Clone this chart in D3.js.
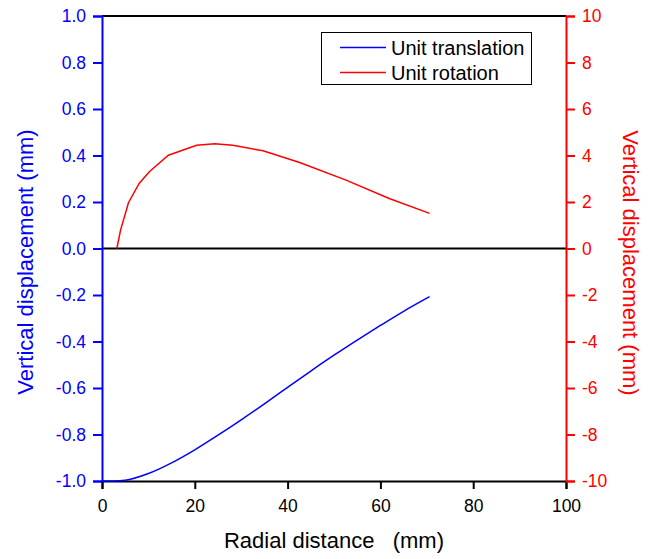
<!DOCTYPE html>
<html>
<head>
<meta charset="utf-8">
<style>
  body { margin: 0; background: #fff; }
  svg text { font-family: Arial, "Liberation Sans", sans-serif; }
</style>
</head>
<body>
<svg id="chart"></svg>
<script src="https://cdnjs.cloudflare.com/ajax/libs/d3/7.8.5/d3.min.js"></script>
<script>
  // radial distance (mm) and vertical displacement
  const transX = [0, 2.5, 5, 10, 15, 20, 25, 30, 35, 40, 45, 50, 55, 60, 65, 70.6];
  const transY = [-1.0, -1.0, -0.997, -0.968, -0.922, -0.866, -0.803, -0.737, -0.668, -0.597, -0.527, -0.459, -0.394, -0.331, -0.270, -0.207];

  const rotX = [3.2, 4, 5.7, 8, 10.2, 14.3, 20.4, 24.3, 28.2, 34.7, 42.6, 52.6, 61.9, 70.6];
  const rotY = [0, 0.79, 1.97, 2.8, 3.3, 4.01, 4.44, 4.51, 4.44, 4.2, 3.7, 2.94, 2.15, 1.51];

  const xTicks = [0, 20, 40, 60, 80, 100];
  const leftTicks = [1.0, 0.8, 0.6, 0.4, 0.2, 0.0, -0.2, -0.4, -0.6, -0.8, -1.0];
  const rightTicks = [10, 8, 6, 4, 2, 0, -2, -4, -6, -8, -10];

  const legendNames = ['Unit translation', 'Unit rotation'];

  const W = 658, H = 559;
  const m = { left: 102, right: 566, top: 16, bottom: 481 };
  const blue = '#0000ff', red = '#ff0000';
  const hyph = f => d => f(d).replace('\u2212', '-');

  const svg = d3.select('#chart').attr('width', W).attr('height', H);

  const x = d3.scaleLinear().domain([0, 100]).range([m.left, m.right]);
  const yL = d3.scaleLinear().domain([-1, 1]).range([m.bottom, m.top]);
  const yR = d3.scaleLinear().domain([-10, 10]).range([m.bottom, m.top]);

  // top frame
  svg.append('line')
      .attr('x1', m.left).attr('x2', m.right)
      .attr('y1', m.top).attr('y2', m.top)
      .attr('stroke', '#000').attr('stroke-width', 2);

  // zero line
  svg.append('line')
      .attr('x1', m.left).attr('x2', m.right)
      .attr('y1', yL(0)).attr('y2', yL(0))
      .attr('stroke', '#000').attr('stroke-width', 2);

  // bottom axis
  const gx = svg.append('g')
      .attr('transform', `translate(0,${m.bottom})`)
      .call(d3.axisBottom(x).tickValues(xTicks).tickSize(8).tickPadding(11).tickFormat(d3.format('d')));
  gx.select('.domain').attr('stroke', '#000').attr('stroke-width', 2);
  gx.selectAll('.tick line').attr('stroke', '#000').attr('stroke-width', 2);
  gx.selectAll('text').attr('font-size', 17.5).attr('fill', '#000');

  // left axis
  const gl = svg.append('g')
      .attr('transform', `translate(${m.left},0)`)
      .call(d3.axisLeft(yL).tickValues(leftTicks).tickSize(9).tickPadding(7).tickFormat(hyph(d3.format('.1f'))));
  gl.select('.domain').attr('stroke', blue).attr('stroke-width', 2);
  gl.selectAll('.tick line').attr('stroke', blue).attr('stroke-width', 2);
  gl.selectAll('text').attr('font-size', 17.5).attr('fill', blue);

  // right axis
  const gr = svg.append('g')
      .attr('transform', `translate(${m.right},0)`)
      .call(d3.axisRight(yR).tickValues(rightTicks).tickSize(9).tickPadding(7).tickFormat(hyph(d3.format('d'))));
  gr.select('.domain').attr('stroke', red).attr('stroke-width', 2);
  gr.selectAll('.tick line').attr('stroke', red).attr('stroke-width', 2);
  gr.selectAll('text').attr('font-size', 17.5).attr('fill', red);

  // curves
  const transLine = d3.line().x(d => x(d[0])).y(d => yL(d[1])).curve(d3.curveMonotoneX);
  const rotLine = d3.line().x(d => x(d[0])).y(d => yR(d[1]));

  svg.append('path')
      .datum(d3.zip(transX, transY))
      .attr('fill', 'none').attr('stroke', blue).attr('stroke-width', 1.5)
      .attr('d', transLine);

  svg.append('path')
      .datum(d3.zip(rotX, rotY))
      .attr('fill', 'none').attr('stroke', red).attr('stroke-width', 1.5)
      .attr('d', rotLine);

  // axis titles
  svg.append('text')
      .attr('x', (m.left + m.right) / 2).attr('y', 548)
      .attr('text-anchor', 'middle').attr('font-size', 22).attr('fill', '#000')
      .style('white-space', 'pre')
      .text('Radial distance   (mm)');

  svg.append('text')
      .attr('transform', `translate(33,262) rotate(-90)`)
      .attr('text-anchor', 'middle').attr('font-size', 22).attr('fill', blue)
      .text('Vertical displacement (mm)');

  svg.append('text')
      .attr('transform', `translate(623,263) rotate(90)`)
      .attr('text-anchor', 'middle').attr('font-size', 22).attr('fill', red)
      .text('Vertical displacement (mm)');

  // legend
  const lg = svg.append('g');
  lg.append('rect')
      .attr('x', 321.5).attr('y', 32.5).attr('width', 210).attr('height', 52)
      .attr('fill', '#fff').attr('stroke', '#000').attr('stroke-width', 1);
  [blue, red].forEach((c, i) => {
    const yy = 47.5 + i * 25;
    lg.append('line').attr('x1', 340).attr('x2', 386).attr('y1', yy).attr('y2', yy)
        .attr('stroke', c).attr('stroke-width', 1.5);
    lg.append('text').attr('x', 391).attr('y', yy + 7)
        .attr('font-size', 20).attr('fill', '#000').text(legendNames[i]);
  });
</script>
</body>
</html>
